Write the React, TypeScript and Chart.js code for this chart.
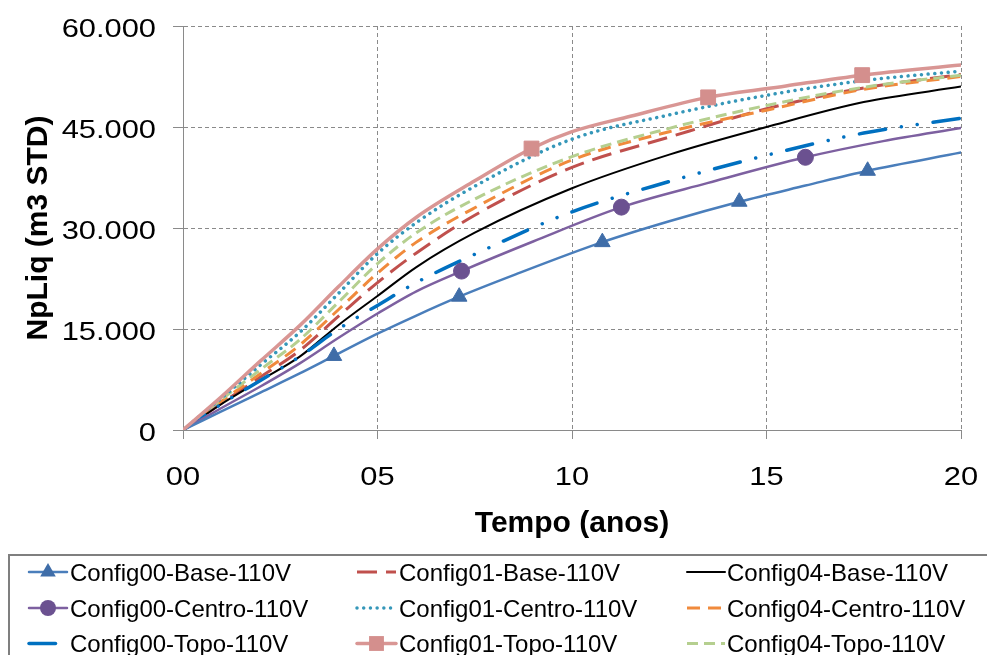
import React, { useEffect, useRef } from 'react';
import { Chart, registerables } from 'chart.js';

Chart.register(...registerables);

// ---------- data ----------
const xTickValues = [0, 5, 10, 15, 20];
const xTickLabels = ['00', '05', '10', '15', '20'];
const yTickValues = [0, 15000, 30000, 45000, 60000];
const yTickLabels = ['0', '15.000', '30.000', '45.000', '60.000'];

const years = [0, 1, 2, 3, 4, 5, 6, 7.5, 10, 12.5, 15, 17.5, 20];
const config00Topo = [0, 3900, 7400, 10900, 15000, 18500, 21900, 26100, 32400, 36900, 40800, 44100, 46300];
const config01Base = [0, 4000, 7900, 11800, 16900, 21900, 26300, 31900, 39000, 43500, 47700, 50800, 52800];
const config01Centro = [0, 4800, 9700, 14500, 20300, 26200, 30800, 36200, 43200, 46800, 49700, 51900, 53300];
const config04Base = [0, 3900, 7400, 10900, 15600, 19900, 24200, 29300, 35900, 40900, 45000, 48700, 51000];
const config04Centro = [0, 4300, 8400, 12600, 17900, 23300, 27900, 33000, 40100, 44300, 47500, 50600, 52500];
const config04Topo = [0, 4600, 9000, 13400, 19000, 24700, 29300, 34300, 40600, 44800, 48200, 50900, 52700];

const base00Years = [0, 1, 2, 3, 3.88, 5, 6, 7.1, 8.5, 10.78, 12.5, 14.3, 16, 17.6, 20];
const base00Vals = [0, 2800, 5600, 8400, 11000, 14300, 17000, 19800, 23000, 27900, 31000, 33900, 36300, 38500, 41200];
const base00Markers = [3.88, 7.1, 10.78, 14.3, 17.6];

const centro00Years = [0, 1, 2, 3, 4, 5, 6, 7.16, 9, 11.27, 13.5, 16, 18, 20];
const centro00Vals = [0, 3300, 6500, 9900, 13700, 17300, 20600, 23600, 28000, 33100, 36700, 40500, 42900, 44850];
const centro00Markers = [7.16, 11.27, 16];

const topo01Years = [0, 1, 2, 3, 4, 5, 6, 7.5, 8.96, 10, 11.5, 13.5, 15.5, 17.46, 20];
const topo01Vals = [0, 5000, 10300, 15500, 21300, 26900, 31600, 37000, 41800, 44300, 46600, 49400, 51100, 52700, 54200];
const topo01Markers = [8.96, 13.5, 17.46];

// ---------- styles ----------
type Spec = {
  label: string; xs: number[]; ys: number[]; markers: number[];
  color: string; width: number; dash: number[]; cap: CanvasLineCap;
  point: string; pointColor: string; radius: number; col: number; row: number;
};

const series: Spec[] = [
  { label: 'Config01-Topo-110V', xs: topo01Years, ys: topo01Vals, markers: topo01Markers, color: '#D99694', width: 3.5, dash: [], cap: 'round', point: 'rect', pointColor: '#D48F8D', radius: 10.5, col: 1, row: 2 },
  { label: 'Config00-Base-110V', xs: base00Years, ys: base00Vals, markers: base00Markers, color: '#4A7EBB', width: 2.5, dash: [], cap: 'round', point: 'triangle', pointColor: '#3F6DA8', radius: 9, col: 0, row: 0 },
  { label: 'Config00-Centro-110V', xs: centro00Years, ys: centro00Vals, markers: centro00Markers, color: '#7D60A0', width: 2.5, dash: [], cap: 'round', point: 'circle', pointColor: '#6B5190', radius: 8, col: 0, row: 1 },
  { label: 'Config01-Centro-110V', xs: years, ys: config01Centro, markers: [], color: '#3597B9', width: 3.5, dash: [0.01, 6.7], cap: 'round', point: 'circle', pointColor: '#3597B9', radius: 0, col: 1, row: 1 },
  { label: 'Config00-Topo-110V', xs: years, ys: config00Topo, markers: [], color: '#0070C0', width: 3.5, dash: [26.5, 16, 0.01, 16, 0.01, 16], cap: 'round', point: 'circle', pointColor: '#0070C0', radius: 0, col: 0, row: 2 },
  { label: 'Config04-Base-110V', xs: years, ys: config04Base, markers: [], color: '#000000', width: 2, dash: [], cap: 'round', point: 'circle', pointColor: '#000', radius: 0, col: 2, row: 0 },
  { label: 'Config04-Topo-110V', xs: years, ys: config04Topo, markers: [], color: '#B5CF8F', width: 3, dash: [11, 6], cap: 'butt', point: 'circle', pointColor: '#B5CF8F', radius: 0, col: 2, row: 2 },
  { label: 'Config04-Centro-110V', xs: years, ys: config04Centro, markers: [], color: '#F08A3C', width: 3, dash: [13, 8], cap: 'butt', point: 'circle', pointColor: '#F08A3C', radius: 0, col: 2, row: 1 },
  { label: 'Config01-Base-110V', xs: years, ys: config01Base, markers: [], color: '#C0504D', width: 3, dash: [20, 9], cap: 'butt', point: 'circle', pointColor: '#C0504D', radius: 0, col: 1, row: 0 },
];

const FONT = '"Liberation Sans", Arial, Helvetica, sans-serif';
const GRID = '#8a8a8a';

function drawMarker(ctx: CanvasRenderingContext2D, style: string, x: number, y: number, r: number, color: string) {
  ctx.save();
  ctx.fillStyle = color;
  ctx.setLineDash([]);
  ctx.beginPath();
  if (style === 'triangle') {
    for (let k = 0; k < 3; k++) {
      const a = (k * 2 * Math.PI) / 3;
      const px = x + Math.sin(a) * r;
      const py = y - Math.cos(a) * r;
      if (k === 0) ctx.moveTo(px, py); else ctx.lineTo(px, py);
    }
    ctx.closePath();
  } else if (style === 'rect') {
    const s = Math.SQRT1_2 * r;
    ctx.rect(x - s, y - s, 2 * s, 2 * s);
  } else {
    ctx.arc(x, y, r, 0, Math.PI * 2);
  }
  ctx.fill();
  ctx.restore();
}

const overlay = {
  id: 'overlay',
  afterDraw(chart: any) {
    const ctx: CanvasRenderingContext2D = chart.ctx;
    const xs = chart.scales.x;
    const ys = chart.scales.y;
    ctx.save();
    ctx.fillStyle = '#000';
    ctx.textBaseline = 'alphabetic';
    ctx.font = `25.5px ${FONT}`;
    yTickValues.forEach((v, i) => {
      const py = ys.getPixelForValue(v);
      ctx.save();
      ctx.translate(156, py + 10.5);
      ctx.scale(1.21, 1);
      ctx.textAlign = 'right';
      ctx.fillText(yTickLabels[i], 0, 0);
      ctx.restore();
    });
    xTickValues.forEach((v, i) => {
      const px = xs.getPixelForValue(v);
      ctx.save();
      ctx.translate(px, 485);
      ctx.scale(1.21, 1);
      ctx.textAlign = 'center';
      ctx.fillText(xTickLabels[i], 0, 0);
      ctx.restore();
    });

    ctx.font = `bold 30px ${FONT}`;
    ctx.textAlign = 'center';
    ctx.fillText('Tempo (anos)', (xs.left + xs.right) / 2, 532);
    ctx.save();
    ctx.translate(47, (ys.top + ys.bottom) / 2);
    ctx.rotate(-Math.PI / 2);
    ctx.fillText('NpLiq (m3 STD)', 0, 0);
    ctx.restore();

    // legend
    ctx.strokeStyle = '#7f7f7f';
    ctx.lineWidth = 2;
    ctx.setLineDash([]);
    ctx.strokeRect(9, 555, 1000, 200);

    const sampleStart = [29, 357, 687];
    const sampleEnd = [67, 396, 725];
    const textX = [70, 399, 727];
    const rowY = [572, 608, 643.5];
    ctx.font = `24px ${FONT}`;
    ctx.textAlign = 'left';
    series.forEach((s) => {
      const y = rowY[s.row];
      ctx.save();
      ctx.strokeStyle = s.color;
      ctx.lineWidth = s.width;
      ctx.lineCap = s.cap;
      ctx.setLineDash(s.dash);
      ctx.beginPath();
      ctx.moveTo(sampleStart[s.col], y);
      ctx.lineTo(sampleEnd[s.col], y);
      ctx.stroke();
      ctx.restore();
      if (s.markers.length) {
        drawMarker(ctx, s.point, (sampleStart[s.col] + sampleEnd[s.col]) / 2, y, s.radius, s.pointColor);
      }
      ctx.fillStyle = '#000';
      ctx.fillText(s.label, textX[s.col], y + 8.6);
    });
    ctx.restore();
  },
};

export default function App() {
  const ref = useRef<HTMLCanvasElement | null>(null);

  useEffect(() => {
    if (!ref.current) return;
    const datasets = series.map((s) => ({
      label: s.label,
      data: s.xs.map((x, i) => ({ x, y: s.ys[i] })),
      borderColor: s.color,
      borderWidth: s.width,
      borderDash: s.dash,
      borderCapStyle: s.cap,
      borderJoinStyle: 'round' as CanvasLineJoin,
      cubicInterpolationMode: 'monotone' as const,
      fill: false,
      pointStyle: s.point as any,
      pointRadius: s.xs.map((x) => (s.markers.includes(x) ? s.radius : 0)),
      pointHoverRadius: 0,
      pointBackgroundColor: s.pointColor,
      pointBorderColor: s.pointColor,
      pointBorderWidth: 1,
    }));

    const gridCommon = {
      color: GRID,
      lineWidth: 1,
      tickColor: GRID,
      tickWidth: 1,
    };

    const chart = new Chart(ref.current, {
      type: 'line',
      data: { datasets },
      options: {
        responsive: false,
        animation: false,
        devicePixelRatio: 1,
        layout: { padding: { top: 26, right: 26, bottom: 102, left: 0 } },
        plugins: { legend: { display: false }, tooltip: { enabled: false } },
        events: [],
        scales: {
          x: {
            type: 'linear',
            min: 0,
            max: 20,
            ticks: { stepSize: 5, display: false },
            grid: { ...gridCommon, tickLength: 9 },
            border: { color: GRID, width: 1, dash: [4, 3] },
            afterFit: (s: any) => { s.height = 123; },
          },
          y: {
            type: 'linear',
            min: 0,
            max: 60000,
            ticks: { stepSize: 15000, display: false },
            grid: { ...gridCommon, tickLength: 10 },
            border: { color: GRID, width: 1, dash: [4, 3] },
            afterFit: (s: any) => { s.width = 183; },
          },
        },
      } as any,
      plugins: [overlay],
    });
    return () => chart.destroy();
  }, []);

  return (
    <div style={{ position: 'absolute', left: 0, top: 0, width: 987, height: 655, background: '#fff' }}>
      <canvas ref={ref} width={987} height={655} style={{ display: 'block' }} />
    </div>
  );
}
